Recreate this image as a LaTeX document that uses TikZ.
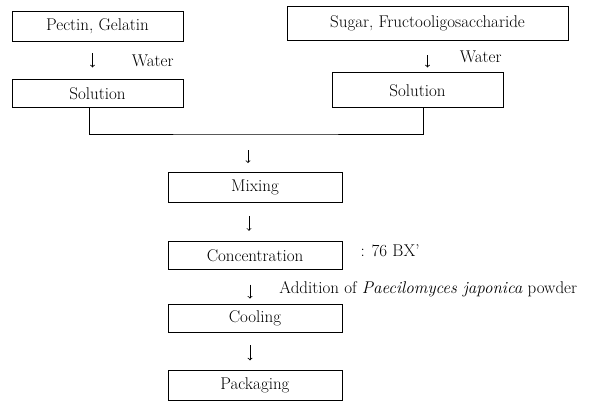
\documentclass[tikz,border=0pt]{standalone}
\usepackage{tikz}
\usetikzlibrary{arrows,positioning}
\tikzset{
    %Define standard arrow tip
    >=to,
    %Define style for boxes
    stage/.style={
           rectangle,
           draw=black, line width=0.8pt,
           minimum width=171pt,
           minimum height=28pt,
           inner sep=2pt,
           font=\fontsize{17}{20}\selectfont,
           text centered},
    note/.style={
           inner sep=2pt,
           font=\fontsize{17}{20}\selectfont},
    % Define arrow style
    pil/.style={
           ->,
           line width=0.8pt,
           shorten <=13pt,
           shorten >=10pt}
}

\begin{document}
\begin{tikzpicture}[x=1pt,y=-1pt,node distance=38pt]
\useasboundingbox (0,0) rectangle (604,400);
\node[stage, minimum height=30pt](pectin) at (97.5,26){Pectin, Gelatin};
\node[stage, below=of pectin](solL){Solution};
\node[stage, minimum width=281pt, minimum height=34pt](sugar) at (427.5,23){Sugar, Fructooligosaccharide};
\node[stage, minimum height=35pt, below=32pt of sugar, xshift=-10pt](solR){Solution};
\path[pil, shorten <=12pt, shorten >=12pt] ([xshift=-5pt]pectin.south) edge node[note, right=37pt]{Water} ([xshift=-5pt]solL.north);
\path[pil, shorten <=15pt, shorten >=5pt] (sugar.south) edge node[note, right=30pt]{Water} (sugar.south |- solR.north);

% merge of both solutions
\coordinate (merge) at (255,134);
\draw[line width=0.8pt] ([xshift=-8pt]solL.south) |- (merge) -| ([xshift=6pt]solR.south);

\node[stage, minimum width=174pt, minimum height=30pt, below=of merge](mixing){Mixing};
\node[stage, minimum width=174pt, below=of mixing](conc){Concentration};
\node[stage, minimum width=174pt, below=34pt of conc](cool){Cooling};
\node[stage, minimum width=174pt, minimum height=30pt, below=of cool](pack){Packaging};
\node[note, right=16pt of conc, yshift=4pt](brix){: 76 BX'};

\path[pil, shorten <=16pt, shorten >=9pt] ([xshift=-7pt]merge) edge ([xshift=-7pt]mixing.north);
\path[pil] ([xshift=-6pt]mixing.south) edge ([xshift=-6pt]conc.north);
\path[pil, shorten <=15pt, shorten >=5pt] ([xshift=-5pt]conc.south) edge node[note, right=27pt, yshift=-3pt]{Addition of \textit{Paecilomyces japonica} powder} ([xshift=-5pt]cool.north);
\path[pil] ([xshift=-5pt]cool.south) edge ([xshift=-5pt]pack.north);
\end{tikzpicture}
\end{document}
